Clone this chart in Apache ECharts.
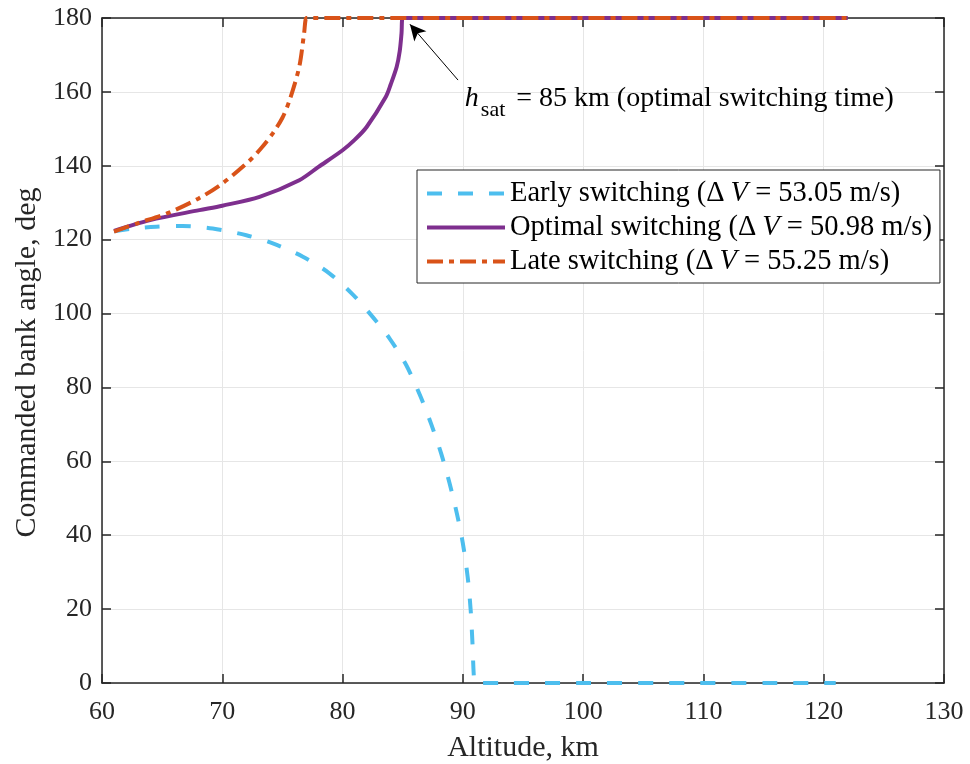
<!DOCTYPE html>
<html><head><meta charset="utf-8">
<script src="https://cdn.jsdelivr.net/npm/echarts@6/dist/echarts.min.js"></script>
<style>html,body{margin:0;padding:0;background:#fff}#c{width:970px;height:764px}</style>
</head><body><div id="c"></div>
<script>
// ---- data ----
var xTicks = [60, 70, 80, 90, 100, 110, 120, 130];
var yTicks = [0, 20, 40, 60, 80, 100, 120, 140, 160, 180];
var seriesNames = ['Early switching', 'Optimal switching', 'Late switching'];
var deltaV = ['53.05', '50.98', '55.25'];

var earlyX = [61, 62.5, 64.5, 66.7, 69.2, 72.0, 74.2, 76.7, 78.9, 80.9, 82.5, 83.9, 85.3, 86.5, 87.4, 88.2, 88.9, 89.5, 90.0, 90.4, 90.65, 90.8, 90.9, 91.0, 91.3, 121];
var earlyY = [122.3, 123.0, 123.5, 123.7, 123.0, 121.2, 119.0, 115.4, 110.9, 105.0, 99.1, 93.3, 86.0, 77.4, 69.8, 62.1, 54.0, 45.9, 37.8, 28.7, 19.7, 10.7, 2.6, 0, 0, 0];

var optimalX = [61, 64, 68.1, 70, 73.1, 76.4, 78, 80, 81, 82.0, 83.6, 84.0, 84.5, 84.75, 84.9, 85.0, 85.3, 122];
var optimalY = [122.4, 125.3, 128.0, 129.2, 131.6, 136.1, 139.7, 144.2, 147.0, 150.5, 158.7, 162.0, 166.8, 171.0, 175.8, 180, 180, 180];

var lateX = [61, 63, 65.4, 68, 70, 72.3, 73.3, 74.2, 75.0, 75.6, 76.4, 76.8, 77.0, 77.3, 122];
var lateY = [122.2, 124.5, 127.1, 131.1, 135.2, 141.5, 145.0, 148.8, 153.0, 157.8, 166.8, 175.8, 180, 180, 180];

var annotTail = [89.6, 163.2];
var annotHead = [85.6, 178.3];
var annotText = [90.0, 157.0];

function zip(xs, ys) { return xs.map(function (x, i) { return [x, ys[i]]; }); }

var FONT = '"Liberation Serif", "Times New Roman", serif';
var axisCol = '#262626';
var chart = echarts.init(document.getElementById('c'), null, {renderer: 'canvas'});

var baseAxis = {
  axisLine: {show: true, onZero: false, lineStyle: {color: axisCol, width: 1.5}},
  axisTick: {show: true, inside: true, length: 9, lineStyle: {color: axisCol, width: 1.5}},
};

chart.setOption({
  animation: false,
  backgroundColor: '#fff',
  textStyle: {fontFamily: FONT},
  grid: {left: 102, top: 18, width: 842, height: 665, containLabel: false, outerBoundsMode: 'none'},
  xAxis: [
    Object.assign({}, baseAxis, {
      type: 'value', min: xTicks[0], max: xTicks[xTicks.length - 1], interval: 10,
      name: 'Altitude, km', nameLocation: 'middle', nameGap: 50,
      nameTextStyle: {fontFamily: FONT, fontSize: 30, color: '#262626'},
      axisLabel: {fontFamily: FONT, fontSize: 26, color: '#262626', margin: 16},
      splitLine: {show: true, lineStyle: {color: '#e6e6e6', width: 1}}
    }),
    Object.assign({}, baseAxis, {
      type: 'value', position: 'top', min: xTicks[0], max: xTicks[xTicks.length - 1], interval: 10,
      axisLabel: {show: false}, splitLine: {show: false}
    })
  ],
  yAxis: [
    Object.assign({}, baseAxis, {
      type: 'value', min: yTicks[0], max: yTicks[yTicks.length - 1], interval: 20,
      name: 'Commanded bank angle, deg', nameLocation: 'middle', nameGap: 60,
      nameTextStyle: {fontFamily: FONT, fontSize: 30, color: '#262626', padding: [0, 24, 0, 0]},
      axisLabel: {fontFamily: FONT, fontSize: 26, color: '#262626', margin: 10},
      splitLine: {show: true, lineStyle: {color: '#e6e6e6', width: 1}}
    }),
    Object.assign({}, baseAxis, {
      type: 'value', position: 'right', min: yTicks[0], max: yTicks[yTicks.length - 1], interval: 20,
      axisLabel: {show: false}, splitLine: {show: false}
    })
  ],
  legend: {
    orient: 'vertical', left: 417, top: 170,
    backgroundColor: '#fff', borderColor: '#262626', borderWidth: 1,
    padding: [9, 8, 7, 8],
    itemWidth: 78, itemHeight: 14, itemGap: 5,
    lineStyle: {width: 4},
    itemStyle: {color: 'rgba(0,0,0,0)', borderWidth: 0, opacity: 0},
    data: seriesNames,
    formatter: function (name) {
      var i = seriesNames.indexOf(name);
      return '{n|' + name + ' (}{d|Δ}{v|V}{n| = ' + deltaV[i] + ' m/s)}';
    },
    textStyle: {
      fontFamily: FONT, fontSize: 28.5, color: '#000',
      rich: {
        n: {fontFamily: FONT, fontSize: 28.5, color: '#000', lineHeight: 30},
        d: {fontFamily: FONT, fontSize: 28.5, color: '#000', lineHeight: 30, padding: [0, 6, 0, 0]},
        v: {fontFamily: FONT, fontSize: 28.5, fontStyle: 'italic', color: '#000', lineHeight: 30}
      }
    }
  },
  series: [
    {
      name: seriesNames[0], type: 'line', data: zip(earlyX, earlyY),
      showSymbol: false, symbol: 'none', smooth: 0.3,
      lineStyle: {color: '#4DBEEE', width: 4, type: [15, 16]},
      itemStyle: {color: '#4DBEEE'}
    },
    {
      name: seriesNames[1], type: 'line', data: zip(optimalX, optimalY),
      showSymbol: false, symbol: 'none', smooth: 0.3,
      lineStyle: {color: '#7E2F8E', width: 4, type: 'solid'},
      itemStyle: {color: '#7E2F8E'},
      markLine: {
        silent: true, animation: false,
        symbol: ['none', 'arrow'], symbolSize: [12, 16],
        lineStyle: {color: '#000', width: 1, type: 'solid'},
        label: {show: false},
        data: [[{coord: annotTail}, {coord: annotHead}]]
      },
      markPoint: {
        silent: true, symbol: 'circle', symbolSize: 0,
        data: [{coord: annotText}],
        label: {
          show: true, position: 'right', distance: 2,
          formatter: '{h|h}{s|sat}{t| = 85 km (optimal switching time)}',
          rich: {
            h: {fontFamily: FONT, fontSize: 28, fontStyle: 'italic', color: '#000', verticalAlign: 'top', lineHeight: 36},
            s: {fontFamily: FONT, fontSize: 22, color: '#000', verticalAlign: 'top', lineHeight: 36, padding: [14, 4, 0, 2]},
            t: {fontFamily: FONT, fontSize: 28, color: '#000', verticalAlign: 'top', lineHeight: 36}
          }
        }
      }
    },
    {
      name: seriesNames[2], type: 'line', data: zip(lateX, lateY),
      showSymbol: false, symbol: 'none', smooth: 0.3,
      lineStyle: {color: '#D95319', width: 4, type: [16, 6, 5, 6]},
      itemStyle: {color: '#D95319'}
    }
  ]
});
</script></body></html>
